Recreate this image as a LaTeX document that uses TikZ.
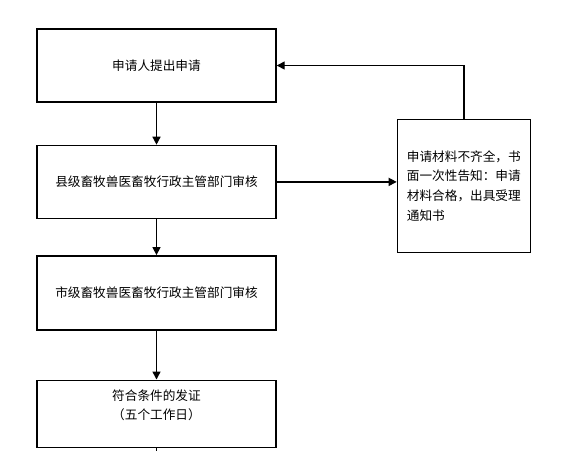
\documentclass[tikz,border=0pt]{standalone}
\usepackage{fontspec}
\setmainfont{Noto Sans CJK SC}
\usetikzlibrary{positioning,arrows.meta}

\begin{document}
\begin{tikzpicture}[
        box/.style={draw,line width=1pt,minimum width=5.975cm,minimum height=1.825cm,
                    align=center,font=\fontsize{9}{14}\selectfont},
        note/.style={draw,line width=1pt,text width=2.85cm,inner xsep=.2375cm,
                    minimum height=3.325cm,align=left,font=\fontsize{9}{14}\selectfont},
        arr/.style={-{Triangle[length=.2cm,width=.2cm]},line width=1pt}
      ]
        \useasboundingbox (0,0) rectangle (14.3,-11.575);
        \node[box] (apply) at (3.9125,-1.6375) {申请人提出申请};
        \node[box,below=1.05cm of apply] (county) {县级畜牧兽医畜牧行政主管部门审核};
        \node[box,below=.9cm of county,minimum height=1.85cm] (city) {市级畜牧兽医畜牧行政主管部门审核};
        \node[box,below=1.225cm of city,minimum height=1.675cm,text depth=.45cm] (issue)
             {符合条件的发证\\（五个工作日）};
        \node[note,right=3cm of county,yshift=-.1cm] (notice)
             {申请材料不齐全，书\\面一次性告知：申请\\材料合格，出具受理\\通知书};
        \coordinate[below=.08cm of issue] (tail);
        \draw[arr] (apply)--(county); \draw[arr] (county)--(city);
        \draw[arr] (city)--(issue); \draw[line width=1pt] (issue)--(tail);
        \draw[arr] (county.east)--(county.east -| notice.west);
        \draw[arr] (notice.north) |- (apply.east);
      \end{tikzpicture}
\end{document}
